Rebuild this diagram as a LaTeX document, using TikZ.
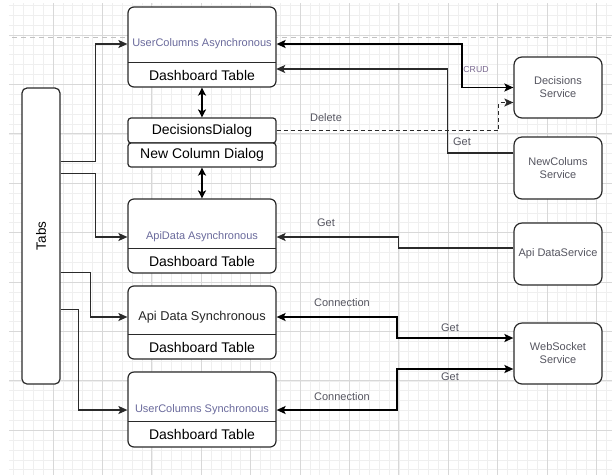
\documentclass[tikz,border=0pt]{standalone}
\usepackage{fontspec}
\setmainfont{Liberation Sans}
\usetikzlibrary{arrows.meta,calc}
\definecolor{gridminor}{HTML}{EFEFEF}
\definecolor{gridmajor}{HTML}{D8D8D8}
\definecolor{edgecol}{HTML}{2A2A2A}
\definecolor{titlecol}{HTML}{6A6A9C}
\definecolor{labelcol}{HTML}{555560}
\definecolor{crudcol}{HTML}{7A6A90}
\begin{document}
\begin{tikzpicture}[x=1pt,y=-1pt,
  box/.style={draw=edgecol, line width=1.2pt, rounded corners=6pt, fill=white, inner sep=0pt},
  dlgbox/.style={draw=edgecol, line width=1.2pt, rounded corners=3pt, fill=white, inner sep=0pt,
    minimum width=148pt, font=\fontsize{14}{16}\selectfont},
  svcbox/.style={draw=edgecol, line width=1.2pt, rounded corners=8pt, fill=white, inner sep=0pt,
    minimum width=88pt, align=center, text=labelcol, font=\fontsize{11}{13}\selectfont},
  tabletext/.style={inner sep=0pt, minimum width=148pt, font=\fontsize{14}{16}\selectfont},
  titletext/.style={inner sep=0pt, text=titlecol, font=\fontsize{11}{13}\selectfont},
  lbl/.style={inner sep=0pt, text=labelcol, font=\fontsize{11}{13}\selectfont},
  arr/.style={draw=edgecol, line width=1.2pt, -{Stealth[length=9pt,width=8pt,inset=2pt]}},
  thickarr/.style={draw=black, line width=1.8pt, {Stealth[length=9pt,width=8pt,inset=2pt]}-{Stealth[length=9pt,width=8pt,inset=2pt]}},
  dblarr/.style={draw=black, line width=1.6pt, {Stealth[length=8pt,width=8pt,inset=2pt]}-{Stealth[length=8pt,width=8pt,inset=2pt]}}
]
\useasboundingbox (0,0) rectangle (612,475);
\fill[white] (0,0) rectangle (612,475);
% grid
\foreach \i in {1,...,61} \draw[gridminor, line width=0.6pt] ({3.6+9.88*\i},3) -- ({3.6+9.88*\i},475);
\foreach \k in {-3,...,44} \draw[gridminor, line width=0.6pt] (9,{35+9.88*\k}) -- (612,{35+9.88*\k});
\foreach \i in {1,...,12} \draw[gridmajor, line width=0.8pt] ({3.6+49.4*\i},3) -- ({3.6+49.4*\i},475);
\foreach \k in {0,...,8} \draw[gridmajor, line width=0.8pt] (9,{35+49.4*\k}) -- (612,{35+49.4*\k});
\draw[gridmajor!75!gray, line width=1pt, dash pattern=on 5pt off 4pt] (12,37) -- (612,37);

% Tabs
\node[box, rounded corners=5pt, minimum width=38pt, minimum height=296pt] (tabs) at (41,236) {};
\node[rotate=90, inner sep=0pt, font=\fontsize{13.5}{15}\selectfont] (tabslbl) at (tabs.center) {Tabs};

% UserColumns Asynchronous
\node[box, minimum width=148pt, minimum height=80pt] (uca) at (202,47) {};
\node[titletext] (ucaT) at (202,44) {UserColumns Asynchronous};
\node[tabletext, minimum height=24pt] (ucaD) at (202,75) {Dashboard Table};
\draw[edgecol, line width=1.2pt] (ucaD.north west) -- (ucaD.north east);

% Dialogs
\node[dlgbox, minimum height=25pt] (dd) at (202,130.5) {DecisionsDialog};
\node[dlgbox, minimum height=24pt] (nc) at (202,155) {New Column Dialog};

% ApiData Asynchronous
\node[box, minimum width=148pt, minimum height=74pt] (aa) at (202,236) {};
\node[titletext] (aaT) at (202,237) {ApiData Asynchronous};
\node[tabletext, minimum height=24pt] (aaD) at (202,261) {Dashboard Table};
\draw[edgecol, line width=1.2pt] (aaD.north west) -- (aaD.north east);

% Api Data Synchronous
\node[box, minimum width=148pt, minimum height=73pt] (as) at (202,322.5) {};
\node[inner sep=0pt, text=black!85, font=\fontsize{12.8}{15}\selectfont] (asT) at (202,317) {Api Data Synchronous};
\node[tabletext, minimum height=24pt] (asD) at (202,347) {Dashboard Table};
\draw[edgecol, line width=1.2pt] (asD.north west) -- (asD.north east);

% UserColumns Synchronous
\node[box, minimum width=148pt, minimum height=75pt] (us) at (202,409.5) {};
\node[titletext] (usT) at (202,410) {UserColumns Synchronous};
\node[tabletext, minimum height=25pt] (usD) at (202,434.5) {Dashboard Table};
\draw[edgecol, line width=1.2pt] (usD.north west) -- (usD.north east);

% Services
\node[svcbox, minimum height=61pt] (ds) at (558,87.5) {Decisions\\Service};
\node[svcbox, minimum height=62pt] (ns) at (558,168) {NewColums\\Service};
\node[svcbox, minimum height=62pt] (ads) at (558,254) {Api DataService};
\node[svcbox, minimum height=61pt] (ws) at (558,353.5) {WebSocket\\Service};

% Tabs connectors
\draw[arr] ($(tabs.north east)+(0,74)$) -- ++(35,0) |- (uca.west |- ucaT);
\draw[arr] ($(tabs.north east)+(0,86)$) -- ++(35,0) |- (aa.west |- aaT);
\draw[arr] ($(tabs.north east)+(0,185)$) -- ++(30,0) |- (as.west |- asT);
\draw[arr] ($(tabs.north east)+(0,222)$) -- ++(18,0) |- (us.west |- usT);

% vertical double arrows
\draw[dblarr] (uca.south) -- (dd.north);
\draw[dblarr] (nc.south) -- (aa.north);

% right side
\draw[thickarr] (uca.east |- ucaT) -- ++(185,0) |- (ds.west);
\draw[arr, dash pattern=on 4pt off 3pt] (dd.east) -- ++(222,0) |- ($(ds.west)+(0,15)$);
\draw[arr] ($(ns.west)+(0,-15)$) -- ++(-66,0) |- ($(ucaD.east)+(0,-6)$);
\draw[arr] ($(ads.west)+(0,-6)$) -- ++(-115,0) |- (aa.east |- aaT);
\draw[thickarr] (as.east |- asT) -- ++(120,0) |- ($(ws.west)+(0,-15.5)$);
\draw[thickarr] (us.east |- usT) -- ++(120,0) |- ($(ws.west)+(0,15.5)$);

% labels
\node[lbl, text=crudcol, font=\fontsize{8.7}{10}\selectfont] (crud) at (476,69) {CRUD};
\node[lbl] (del) at (326,118) {Delete};
\node[lbl] (get1) at (462,142) {Get};
\node[lbl] (get2) at (326,223) {Get};
\node[lbl] (con1) at (342,303) {Connection};
\node[lbl] (get3) at (450,328) {Get};
\node[lbl] (get4) at (450,377) {Get};
\node[lbl] (con2) at (342,397) {Connection};
\end{tikzpicture}
\end{document}
